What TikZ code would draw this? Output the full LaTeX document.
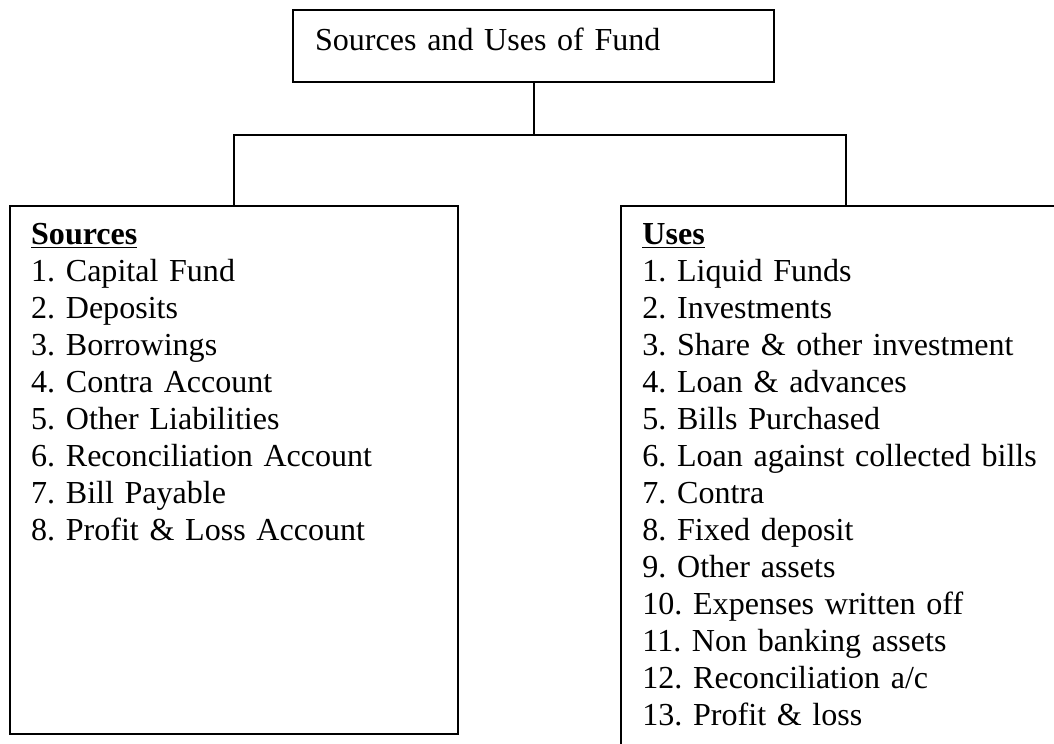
\documentclass[tikz,border=0pt]{standalone}
\usepackage{fontspec}
\setmainfont{Liberation Serif}
\usetikzlibrary{positioning}
\frenchspacing
\tikzset{
    titlebox/.style={rectangle, draw, line width=1.4pt, text width=10.925cm, align=left, inner xsep=0.55cm, inner ysep=0.475cm, text height=0.526cm, text depth=0.325cm},
    listbox/.style={rectangle, draw, line width=1.6pt, anchor=north},
    listtext/.style={anchor=base west, text width=10cm, align=left, inner sep=0pt},
    link/.style={line width=1.3pt}
}

\begin{document}
\begin{tikzpicture}[font=\fontsize{22.8pt}{26.3pt}\selectfont]
    \useasboundingbox (0,0) rectangle (26.35,-18.6);

    % Nodes
    \node [titlebox, anchor=north] (fund) at (13.34,-0.225) {Sources and Uses of Fund};
    \node [listbox, minimum width=11.2cm, minimum height=13.2cm] (src) at (5.85,-5.125) {};
    \node [listbox, minimum width=11.25cm, minimum height=14cm, right=4.025cm of src.north east, anchor=north west] (use) {};

    % Lists
    \node [listtext] (srclist) at ([xshift=0.55cm, yshift=-1cm]src.north west) {\underline{\textbf{Sources}}\\1. Capital Fund\\2. Deposits\\3. Borrowings\\4. Contra Account\\5. Other Liabilities\\6. Reconciliation Account\\7. Bill Payable\\8. Profit \& Loss Account};
    \node [listtext] (uselist) at ([xshift=0.55cm, yshift=-1cm]use.north west) {\underline{\textbf{Uses}}\\1. Liquid Funds\\2. Investments\\3. Share \& other investment\\4. Loan \& advances\\5. Bills Purchased\\6. Loan against collected bills\\7. Contra\\8. Fixed deposit\\9. Other assets\\10. Expenses written off\\11. Non banking assets\\12. Reconciliation a/c\\13. Profit \& loss};

    % Lines
    \path (fund.south) ++(0,-1.3) coordinate (split);
    \draw [link] (fund) -- (split);
    \draw [link] (src) |- (split) -| (use);
\end{tikzpicture}
\end{document}
